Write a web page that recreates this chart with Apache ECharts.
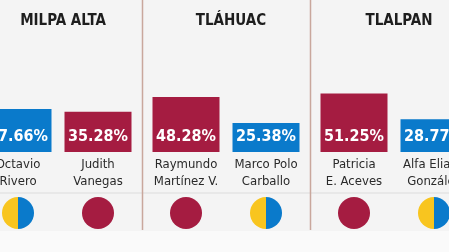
<!DOCTYPE html>
<html><head><meta charset="utf-8">
<script src="https://cdn.jsdelivr.net/npm/echarts@6/dist/echarts.min.js"></script>
<style>html,body{margin:0;padding:0;background:#f4f4f4;}#c{width:449px;height:252px;}</style>
</head><body><div id="c"></div>
<script>
const districts = ['MILPA ALTA', 'TLÁHUAC', 'TLALPAN'];
const candidates = [
  ['Octavio\nRivero', 'Judith\nVanegas'],
  ['Raymundo\nMartínez V.', 'Marco Polo\nCarballo'],
  ['Patricia\nE. Aceves', 'Alfa Eliana\nGonzález']
];
const values = [
  [37.66, 35.28],
  [48.28, 25.38],
  [51.25, 28.77]
];
const parties = [
  ['coalicion', 'morena'],
  ['morena', 'coalicion'],
  ['morena', 'coalicion']
];
const RED = '#a51c41', BLUE = '#0a7acb', YELLOW = '#f8c51f';
const FONT = '"DejaVu Sans Condensed", "Liberation Sans Narrow", sans-serif';

const chart = echarts.init(document.getElementById('c'), null, {renderer: 'canvas'});
const centers = [58, 226, 394];
const grids = [], xAxes = [], yAxes = [], series = [], titles = [];
districts.forEach((d, i) => {
  grids.push({left: centers[i] - 80, width: 160, top: 38, height: 114,
    containLabel: false, outerBoundsMode: 'none'});
  xAxes.push({type: 'category', gridIndex: i, data: candidates[i],
    axisLine: {show: false}, axisTick: {show: false},
    axisLabel: {interval: 0, margin: 4, color: '#2a2a2a', fontFamily: FONT, fontSize: 13, lineHeight: 17}});
  yAxes.push({type: 'value', gridIndex: i, min: 0, max: 100, show: false});
  titles.push({text: d, left: centers[i], top: 9, textAlign: 'center',
    textStyle: {fontFamily: FONT, fontWeight: 'bold', fontSize: 15, color: '#1e1e1e'}});
  series.push({type: 'bar', xAxisIndex: i, yAxisIndex: i, barWidth: 67,
    data: values[i].map((v, j) => ({value: v, itemStyle: {color: parties[i][j] === 'morena' ? RED : BLUE}})),
    label: {show: true, position: 'insideBottom', distance: 7, color: '#fff',
      fontFamily: FONT, fontWeight: 'bold', fontSize: 16,
      formatter: p => p.value.toFixed(2) + '%'}});
  series.push({type: 'custom', xAxisIndex: i, yAxisIndex: i, clip: false,
    data: parties[i].map((p, j) => [j, 0, p === 'morena' ? 1 : 0]),
    renderItem: (params, api) => {
      const pt = api.coord([api.value(0), 0]);
      const cx = pt[0], cy = pt[1] + 61, r = 16;
      if (api.value(2) === 1) {
        return {type: 'circle', shape: {cx, cy, r}, style: {fill: RED}};
      }
      return {type: 'group', children: [
        {type: 'sector', shape: {cx, cy, r0: 0, r, startAngle: Math.PI / 2, endAngle: Math.PI * 3 / 2}, style: {fill: YELLOW}},
        {type: 'sector', shape: {cx, cy, r0: 0, r, startAngle: -Math.PI / 2, endAngle: Math.PI / 2}, style: {fill: BLUE}}
      ]};
    }});
});

chart.setOption({
  backgroundColor: '#f4f4f4',
  animation: false,
  title: titles,
  grid: grids, xAxis: xAxes, yAxis: yAxes, series: series,
  graphic: [
    {type: 'rect', shape: {x: 0, y: 231, width: 449, height: 21}, style: {fill: '#fafafa'}, z: -10},
    {type: 'line', shape: {x1: 0, y1: 193, x2: 449, y2: 193}, style: {stroke: '#dcdcdc', lineWidth: 1}, z: -5},
    {type: 'line', shape: {x1: 142.5, y1: 0, x2: 142.5, y2: 230}, style: {stroke: '#c9a79c', lineWidth: 1.5}, z: -5},
    {type: 'line', shape: {x1: 310.5, y1: 0, x2: 310.5, y2: 230}, style: {stroke: '#c9a79c', lineWidth: 1.5}, z: -5}
  ]
});
</script></body></html>
